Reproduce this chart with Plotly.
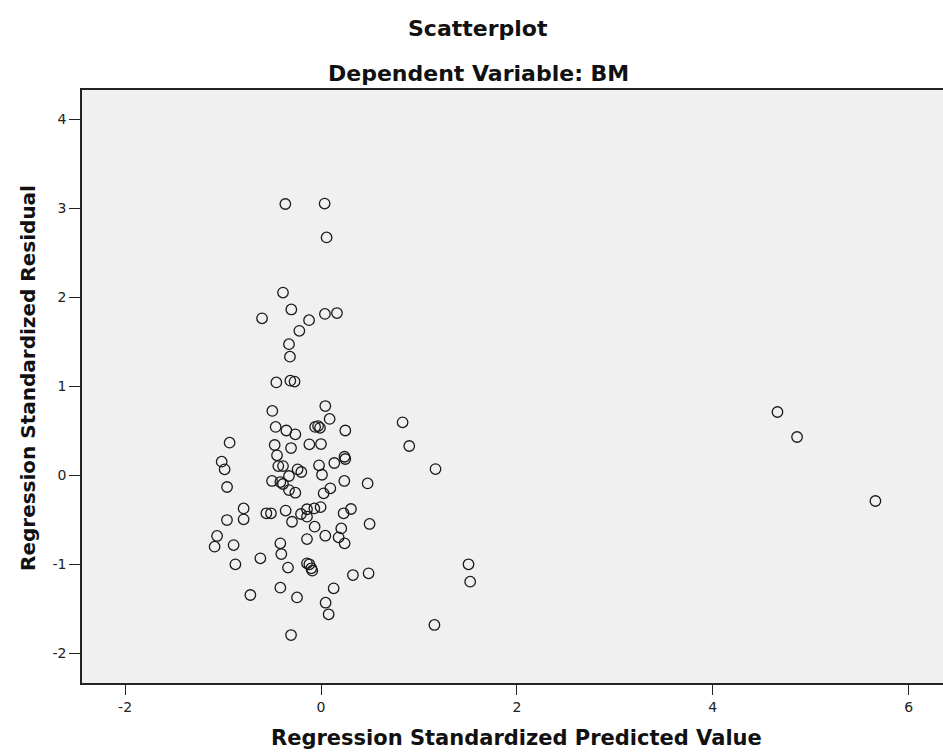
import plotly.graph_objects as go

predicted = [
    -0.364, 0.037, 0.057, -0.388, -0.303, -0.602, -0.122, 0.040, 0.163, -0.221,
    -0.327, -0.317, -0.456, -0.313, -0.270, 0.044, -0.497, 0.088, -0.463, -0.060,
    -0.030, -0.010, -0.354, -0.262, 0.248, -0.933, -0.473, -0.306, -0.119, 0.000,
    -0.449, -1.014, -0.984, -0.436, -0.388, 0.136, 0.240, 0.248, -0.020, -0.239,
    -0.201, 0.010, -0.327, -0.959, -0.500, -0.415, -0.388, -0.327, -0.262, 0.238,
    0.476, 0.027, 0.095, -0.790, -0.960, -0.790, -0.558, -0.511, -0.361, -0.296,
    -0.204, -0.143, -0.068, -0.004, -0.143, 0.231, 0.306, 0.496, -0.065, 0.207,
    -1.061, -1.086, -0.892, -0.415, -0.143, 0.044, 0.180, 0.241, -0.405, -0.619,
    -0.874, -0.337, -0.143, -0.119, -0.089, -0.099, 0.326, 0.486, -0.721, -0.415,
    -0.245, 0.129, 0.047, 0.078, -0.306, 0.833, 0.901, 1.169, 1.506, 1.523,
    1.158, 4.660, 4.860, 5.660,
]
residual = [
    3.045, 3.050, 2.670, 2.050, 1.860, 1.760, 1.740, 1.810, 1.820, 1.620,
    1.470, 1.330, 1.040, 1.060, 1.050, 0.775, 0.720, 0.630, 0.540, 0.540,
    0.550, 0.530, 0.500, 0.457, 0.500, 0.363, 0.337, 0.303, 0.345, 0.348,
    0.221, 0.150, 0.064, 0.100, 0.100, 0.135, 0.205, 0.180, 0.109, 0.064,
    0.034, 0.003, -0.011, -0.135, -0.067, -0.079, -0.101, -0.169, -0.199, -0.067,
    -0.094, -0.206, -0.150, -0.375, -0.506, -0.498, -0.430, -0.430, -0.400, -0.525,
    -0.438, -0.385, -0.375, -0.360, -0.468, -0.430, -0.382, -0.550, -0.580, -0.600,
    -0.685, -0.805, -0.787, -0.768, -0.720, -0.682, -0.700, -0.768, -0.888, -0.936,
    -1.004, -1.040, -0.992, -1.003, -1.075, -1.048, -1.124, -1.105, -1.348, -1.266,
    -1.375, -1.273, -1.435, -1.565, -1.798, 0.592, 0.326, 0.067, -1.003, -1.198,
    -1.685, 0.708, 0.427, -0.292,
]

x_ticks = [-2, 0, 2, 4, 6]
y_ticks = [-2, -1, 0, 1, 2, 3, 4]

title_main = "Scatterplot"
title_sub = "Dependent Variable: BM"
x_title = "Regression Standardized Predicted Value"
y_title = "Regression Standardized Residual"

fig = go.Figure()
fig.add_trace(go.Scatter(
    x=predicted, y=residual, mode="markers",
    marker=dict(symbol="circle-open", size=10.5, color="#1a1a1a",
                line=dict(width=1.3, color="#1a1a1a")),
    showlegend=False, hoverinfo="x+y",
))

fig.update_layout(
    width=943, height=753,
    margin=dict(l=82, r=0, t=90, b=70),
    paper_bgcolor="white",
    plot_bgcolor="#f0f0f0",
    xaxis=dict(
        range=[-2.44, 6.35], tickvals=x_ticks, ticktext=[str(v) for v in x_ticks],
        showgrid=False, zeroline=False, showline=True, linecolor="#222",
        linewidth=1.5, mirror=True, ticks="outside", ticklen=10, tickwidth=1,
        tickcolor="#222", tickfont=dict(family="DejaVu Sans", size=14, color="#222"),
    ),
    yaxis=dict(
        range=[-2.337, 4.326], tickvals=y_ticks, ticktext=[str(v) for v in y_ticks],
        showgrid=False, zeroline=False, showline=True, linecolor="#222",
        linewidth=1.5, ticks="outside", ticklen=11, tickwidth=1,
        tickcolor="#222", tickfont=dict(family="DejaVu Sans", size=14, color="#222"),
    ),
    annotations=[
        dict(text="<b>" + title_main + "</b>", xref="paper", yref="paper",
             x=(478 - 82) / 861, y=1 + (90 - 28) / 593, showarrow=False,
             font=dict(family="DejaVu Sans", size=22, color="#111"),
             xanchor="center", yanchor="middle"),
        dict(text="<b>" + title_sub + "</b>", xref="paper", yref="paper",
             x=(478 - 82) / 861, y=1 + (90 - 73) / 593, showarrow=False,
             font=dict(family="DejaVu Sans", size=22, color="#111"),
             xanchor="center", yanchor="middle"),
        dict(text="<b>" + x_title + "</b>", xref="paper", yref="paper",
             x=(516 - 82) / 861, y=-(738 - 683) / 593, showarrow=False,
             font=dict(family="DejaVu Sans", size=21, color="#111"),
             xanchor="center", yanchor="middle"),
        dict(text="<b>" + y_title + "</b>", xref="paper", yref="paper",
             x=(28 - 82) / 861, y=(683 - 378) / 593, showarrow=False, textangle=-90,
             font=dict(family="DejaVu Sans", size=20, color="#111"),
             xanchor="center", yanchor="middle"),
    ],
)

fig.write_html(
    "out.html",
    config={"displayModeBar": False},
    post_script="document.body.style.margin='0px';document.body.style.overflow='hidden';",
)
